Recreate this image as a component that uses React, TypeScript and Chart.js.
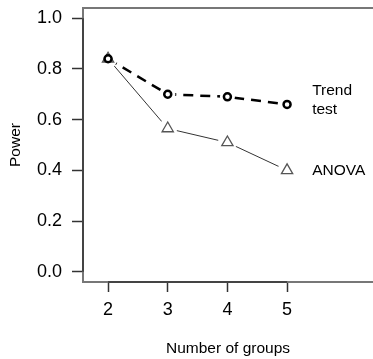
import React, { useEffect, useRef } from "react";
import { Chart, registerables } from "chart.js";

Chart.register(...registerables);

// ---- data ----
const groups = [2, 3, 4, 5];
const trendPower = [0.84, 0.7, 0.69, 0.66];
const anovaPower = [0.84, 0.565, 0.51, 0.4];
const xTickValues = [2, 3, 4, 5];
const yTickValues = [0, 0.2, 0.4, 0.6, 0.8, 1.0];
const trendLabel = ["Trend", "test"];
const anovaLabel = ["ANOVA"];
const xTitle = "Number of groups";
const yTitle = "Power";

const FONT = "'Liberation Sans', Arial, Helvetica, sans-serif";

const pts = (ys: number[]) => groups.map((g, i) => ({ x: g, y: ys[i] }));

const boxPlugin = {
  id: "rbox",
  beforeDatasetsDraw(chart: any) {
    const { ctx, chartArea, scales } = chart;
    ctx.save();
    ctx.strokeStyle = "#777";
    ctx.lineWidth = 2;
    ctx.beginPath();
    ctx.moveTo(chartArea.left - 1, chartArea.top);
    ctx.lineTo(chartArea.right, chartArea.top);
    ctx.stroke();
    ctx.strokeStyle = "#333";
    ctx.lineWidth = 1.5;
    const by = chartArea.bottom;
    ctx.beginPath();
    ctx.moveTo(scales.x.getPixelForValue(xTickValues[0]), by);
    ctx.lineTo(scales.x.getPixelForValue(xTickValues[xTickValues.length - 1]), by);
    ctx.stroke();
    const lx = chartArea.left;
    ctx.beginPath();
    ctx.moveTo(lx, scales.y.getPixelForValue(yTickValues[0]));
    ctx.lineTo(lx, scales.y.getPixelForValue(yTickValues[yTickValues.length - 1]));
    ctx.stroke();
    ctx.restore();
  },
};

const labelPlugin = {
  id: "seriesLabels",
  afterDatasetsDraw(chart: any) {
    const { ctx, scales } = chart;
    const { x, y } = scales;
    ctx.save();
    ctx.font = `15.5px ${FONT}`;
    ctx.fillStyle = "#000";
    ctx.textAlign = "left";
    ctx.textBaseline = "middle";
    const lx = x.getPixelForValue(5.42);
    const draw = (lines: string[], v: number) => {
      const cy = y.getPixelForValue(v);
      const lh = 19;
      lines.forEach((t, i) => ctx.fillText(t, lx, cy + (i - (lines.length - 1) / 2) * lh));
    };
    draw(trendLabel, trendPower[trendPower.length - 1] + 0.016);
    draw(anovaLabel, anovaPower[anovaPower.length - 1]);
    ctx.restore();
  },
};

export default function App() {
  const ref = useRef<HTMLCanvasElement>(null);
  useEffect(() => {
    if (!ref.current) return;
    const chart = new Chart(ref.current, {
      type: "scatter",
      data: {
        datasets: [
          {
            label: "Trend test markers",
            data: pts(trendPower),
            showLine: false,
            pointStyle: "circle",
            pointRadius: 3.5,
            pointBorderWidth: 2.5,
            pointBorderColor: "#000",
            pointBackgroundColor: "#fff",
            order: 0,
          },
          {
            label: "ANOVA markers",
            data: pts(anovaPower),
            showLine: false,
            pointStyle: "triangle",
            pointRadius: 6.5,
            pointBorderWidth: 1.3,
            pointBorderColor: "#555",
            pointBackgroundColor: "rgba(255,255,255,0)",
            order: 0,
          },
          {
            label: "halo trend",
            data: pts(trendPower),
            showLine: false,
            pointStyle: "circle",
            pointRadius: 7.5,
            pointBorderWidth: 0,
            pointBackgroundColor: "#fff",
            pointBorderColor: "#fff",
            order: 1,
          },
          {
            label: "halo anova",
            data: pts(anovaPower),
            showLine: false,
            pointStyle: "circle",
            pointRadius: 9.5,
            pointBorderWidth: 0,
            pointBackgroundColor: "#fff",
            pointBorderColor: "#fff",
            order: 1,
          },
          {
            label: "Trend test",
            data: pts(trendPower),
            showLine: true,
            borderColor: "#000",
            borderWidth: 2.5,
            borderDash: [10, 7],
            pointRadius: 0,
            order: 2,
          },
          {
            label: "ANOVA",
            data: pts(anovaPower),
            showLine: true,
            borderColor: "#333",
            borderWidth: 1,
            pointRadius: 0,
            order: 2,
          },
        ],
      },
      options: {
        animation: false,
        responsive: false,
        events: [],
        layout: { autoPadding: false, padding: { top: 8, left: 0, right: 0, bottom: 0 } },
        plugins: { legend: { display: false }, tooltip: { enabled: false } },
        scales: {
          x: {
            type: "linear",
            min: 1.58,
            max: 6.44,
            afterBuildTicks: (s: any) => {
              s.ticks = xTickValues.map((v) => ({ value: v }));
            },
            afterFit: (s: any) => {
              s.height = 77;
              s.paddingLeft = 0;
              s.paddingRight = 0;
            },
            grid: {
              display: true,
              drawOnChartArea: false,
              drawTicks: true,
              tickLength: 10,
              tickColor: "#333",
              tickWidth: 1.5,
            },
            border: { display: true, color: "#777", width: 2 },
            ticks: {
              autoSkip: false,
              maxRotation: 0,
              padding: 7,
              color: "#000",
              font: { family: FONT, size: 18 },
              callback: (v: any) => String(v),
            },
            title: {
              display: true,
              text: xTitle,
              color: "#000",
              font: { family: FONT, size: 15.5 },
              padding: { top: 0, bottom: 1 },
            },
          },
          y: {
            type: "linear",
            min: -0.04,
            max: 1.04,
            afterBuildTicks: (s: any) => {
              s.ticks = yTickValues.map((v) => ({ value: v }));
            },
            afterFit: (s: any) => {
              s.width = 83;
              s.paddingTop = 0;
              s.paddingBottom = 0;
            },
            grid: {
              display: true,
              drawOnChartArea: false,
              drawTicks: true,
              tickLength: 11,
              tickColor: "#333",
              tickWidth: 1.5,
            },
            border: { display: true, color: "#777", width: 2 },
            ticks: {
              autoSkip: false,
              padding: 10,
              color: "#000",
              font: { family: FONT, size: 18 },
              callback: (v: any) => Number(v).toFixed(1),
            },
            title: {
              display: true,
              text: yTitle,
              color: "#000",
              font: { family: FONT, size: 15.5 },
              padding: { top: 6, bottom: 0 },
            },
          },
        },
      },
      plugins: [boxPlugin, labelPlugin],
    } as any);
    return () => chart.destroy();
  }, []);
  return (
    <div style={{ position: "absolute", left: 0, top: 0, width: 373, height: 359, background: "#fff" }}>
      <canvas ref={ref} width={373} height={359} style={{ display: "block" }} />
    </div>
  );
}
